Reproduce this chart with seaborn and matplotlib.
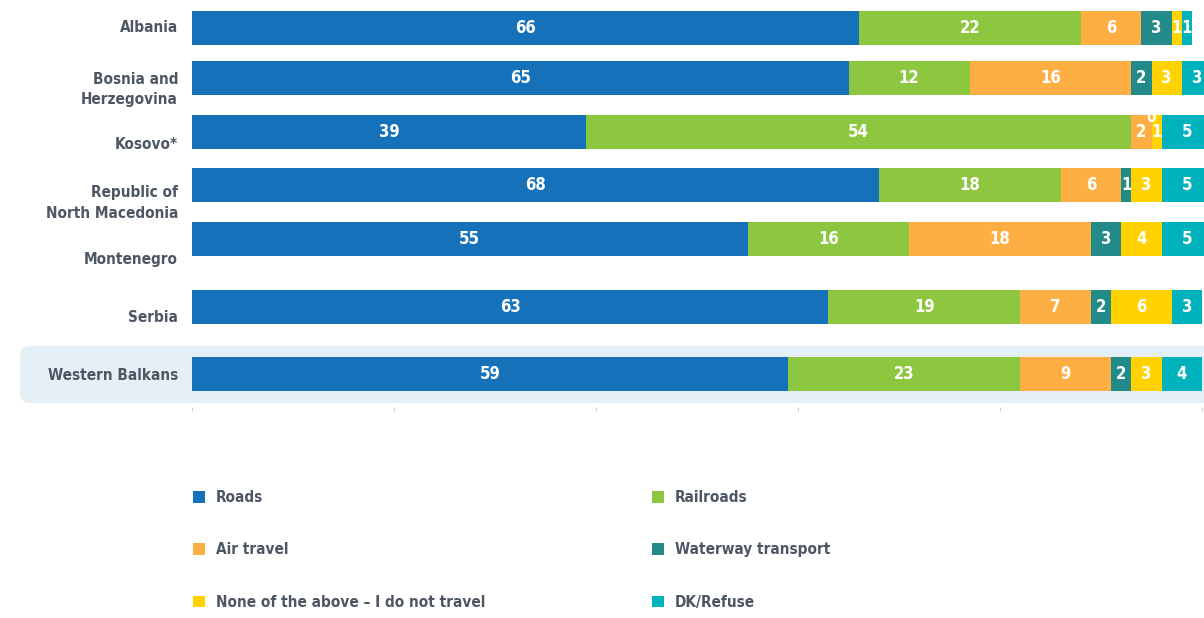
import matplotlib
matplotlib.use("Agg")
import pandas as pd
import seaborn as sns
from matplotlib import pyplot as plt
from matplotlib.patches import FancyBboxPatch, Patch
from matplotlib.transforms import IdentityTransform

# data (percent)
countries = ["Albania", "Bosnia and\nHerzegovina", "Kosovo*", "Republic of\nNorth Macedonia",
             "Montenegro", "Serbia", "Western Balkans"]
roads = [66, 65, 39, 68, 55, 63, 59]
railroads = [22, 12, 54, 18, 16, 19, 23]
air_travel = [6, 16, 2, 6, 18, 7, 9]
waterway = [3, 2, 0, 1, 3, 2, 2]
none_travel = [1, 3, 1, 3, 4, 6, 3]
dk_refuse = [1, 3, 5, 5, 5, 3, 4]
series_names = ["Roads", "Railroads", "Air travel", "Waterway transport",
                "None of the above \u2013 I do not travel", "DK/Refuse"]

# styling / layout
colors = ["#1572ba", "#8dc63f", "#fdaf43", "#238a8a", "#ffd200", "#00b2bb"]
bar_rows = [28, 78, 132, 185, 239, 307, 374]     # bar centres, px from top
label_rows = [26, 85, 143, 199, 258, 316, 374]   # country label centres
TEXT = "#4d5663"
W, H = 1204, 618
PX_PER_UNIT = 10.1

sns.set_style("white")
plt.rcParams["font.family"] = ["Liberation Sans Narrow", "DejaVu Sans"]
plt.rcParams["font.stretch"] = "condensed"

df = pd.DataFrame({"pos": bar_rows})
for name, vals in zip(series_names, [roads, railroads, air_travel, waterway, none_travel, dk_refuse]):
    df[name] = vals
cum = df[series_names].cumsum(axis=1)

fig = plt.figure(figsize=(W / 100, H / 100), dpi=100)
ax = fig.add_axes([192 / W, (H - 407) / H, (W - 192) / W, 407 / H])
ax.set_facecolor("none")

# highlight box behind Western Balkans
fig.patches.append(FancyBboxPatch((20, H - 403), 1220, 57,
                                  boxstyle="round,pad=0,rounding_size=10",
                                  facecolor="#e4eff6", edgecolor="none",
                                  transform=IdentityTransform(), zorder=-1, figure=fig))

# stacked bars: draw cumulative totals from the back to the front
for name, c in reversed(list(zip(series_names, colors))):
    sns.barplot(x=cum[name], y=df["pos"], orient="h", native_scale=True, width=0.68,
                color=c, saturation=1, errorbar=None, linewidth=0, ax=ax)

for i in range(len(df)):
    for name in series_names:
        v = df.loc[i, name]
        x = cum.loc[i, name] - v / 2
        y = df.loc[i, "pos"]
        size = 12
        if v == 0:
            # zero segment: lift its label above the bar line
            y -= 15
            size = 11
        ax.text(x, y, f"{v}", ha="center", va="center", color="white",
                fontsize=size, fontweight="bold")

ax.set_xlim(0, (W - 192) / PX_PER_UNIT)
ax.set_ylim(407, 0)
ax.set_xticks([0, 20, 40, 60, 80, 100])
ax.tick_params(axis="x", length=3, color="#d0d0d0", labelbottom=False, bottom=True)
ax.set_yticks(label_rows)
ax.set_yticklabels(countries, fontsize=11, fontweight="bold", color=TEXT, linespacing=1.45)
ax.tick_params(axis="y", length=0, pad=10)
ax.set_xlabel("")
ax.set_ylabel("")
for s in ax.spines.values():
    s.set_visible(False)

handles = [Patch(facecolor=c, edgecolor="none") for c in colors]
leg_kw = dict(loc="upper left", frameon=False, handlelength=0.8, handleheight=0.8,
              handletextpad=0.7, labelspacing=2.45, borderpad=0, borderaxespad=0,
              prop={"size": 11, "weight": "bold"}, labelcolor=TEXT)
fig.legend([handles[0], handles[2], handles[4]], [series_names[0], series_names[2], series_names[4]],
           bbox_to_anchor=(193 / W, 1 - 490 / H), **leg_kw)
fig.legend([handles[1], handles[3], handles[5]], [series_names[1], series_names[3], series_names[5]],
           bbox_to_anchor=(652 / W, 1 - 490 / H), **leg_kw)

fig.savefig("out.png", dpi=100)
